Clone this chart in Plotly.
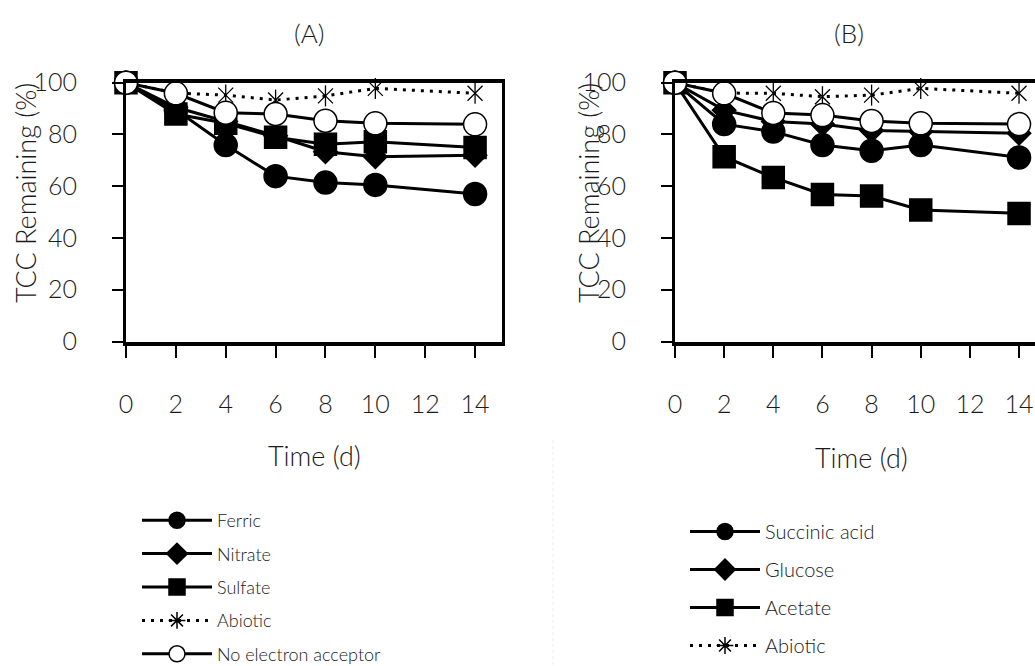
import plotly.graph_objects as go

W, H = 1035, 666

# ---------------- data ----------------
days = [0, 2, 4, 6, 8, 10, 14]

# Panel A (electron acceptors)
ferric = [100, 89.5, 75.9, 63.9, 61.4, 60.5, 57.0]
nitrate = [100, 90.5, 85.0, 79.5, 73.3, 71.4, 72.0]
sulfate = [100, 87.9, 84.3, 78.9, 76.2, 77.2, 75.0]
abiotic_a = [100, 96.0, 95.2, 93.3, 94.9, 97.8, 95.9]
no_acceptor_a = [100, 95.9, 88.4, 87.9, 85.3, 84.3, 83.9]

# Panel B (electron donors)
succinic = [100, 84.0, 81.1, 75.9, 73.7, 75.9, 71.1]
glucose = [100, 89.4, 85.0, 84.0, 81.5, 81.1, 80.5]
acetate = [100, 71.4, 63.4, 56.8, 56.2, 50.8, 49.5]
abiotic_b = [100, 96.0, 95.9, 94.6, 95.2, 97.8, 95.9]
no_acceptor_b = [100, 95.9, 88.3, 87.5, 85.2, 84.3, 84.0]

x_ticks = [0, 2, 4, 6, 8, 10, 12, 14]
y_ticks = [0, 20, 40, 60, 80, 100]

FONT = "Lato"
TXT = "#1a1a1a"
BLACK = "#000000"


def px(x):
    return x / W


def py(y):
    return 1 - y / H


SOLID = dict(color=BLACK, width=3)
DOTTED = dict(color=BLACK, width=3, dash="3px,6px")

fig = go.Figure()


def add_series(xa, ya, y, name, symbol, size, legend, fill=BLACK, show=True):
    fig.add_trace(go.Scatter(
        x=days, y=y, name=name, mode="lines+markers",
        xaxis=xa, yaxis=ya, line=SOLID,
        marker=dict(symbol=symbol, size=size, color=fill,
                    line=dict(color=BLACK, width=1.5)),
        cliponaxis=False, showlegend=show, legend=legend,
        legendgroup=legend + name,
    ))


def add_abiotic(xa, ya, y, legend):
    fig.add_trace(go.Scatter(
        x=days, y=y, name="Abiotic", mode="lines+markers", xaxis=xa, yaxis=ya,
        line=DOTTED,
        marker=dict(symbol="x-thin-open", size=15, color=BLACK,
                    line=dict(color=BLACK, width=1.3)),
        cliponaxis=False, showlegend=False,
    ))
    fig.add_trace(go.Scatter(
        x=days, y=y, mode="markers", xaxis=xa, yaxis=ya,
        marker=dict(symbol="line-ns-open", size=15, color=BLACK,
                    line=dict(color=BLACK, width=1.3)),
        cliponaxis=False, showlegend=False,
    ))
    # legend entry (asterisk symbol)
    fig.add_trace(go.Scatter(
        x=[None], y=[None], name="Abiotic", mode="lines+markers",
        xaxis=xa, yaxis=ya, line=DOTTED,
        marker=dict(symbol="asterisk-open", size=14, color=BLACK,
                    line=dict(color=BLACK, width=1.5)),
        showlegend=True, legend=legend, legendgroup=legend + "Abiotic",
    ))


# Panel A
add_series("x", "y", ferric, "Ferric", "circle", 23, "legend")
add_series("x", "y", nitrate, "Nitrate", "diamond", 18, "legend")
add_series("x", "y", sulfate, "Sulfate", "square", 22, "legend")
add_abiotic("x", "y", abiotic_a, "legend")
add_series("x", "y", no_acceptor_a, "No electron acceptor", "circle", 23,
           "legend", fill="#ffffff")

# Panel B
add_series("x2", "y2", succinic, "Succinic acid", "circle", 23, "legend2")
add_series("x2", "y2", glucose, "Glucose", "diamond", 18, "legend2")
add_series("x2", "y2", acetate, "Acetate", "square", 22, "legend2")
add_abiotic("x2", "y2", abiotic_b, "legend2")
add_series("x2", "y2", no_acceptor_b, "No electron acceptor", "circle", 23,
           "legend2", fill="#ffffff", show=False)

tickfont = dict(family=FONT, size=25, color=TXT, weight=300)

xcommon = dict(
    tickvals=x_ticks, ticktext=[str(v) for v in x_ticks],
    ticks="outside", ticklen=12, tickwidth=2, tickcolor=BLACK,
    showline=True, linecolor=BLACK, linewidth=4,
    showgrid=False, zeroline=False, tickfont=tickfont,
    ticklabelstandoff=25, automargin=False,
)
ycommon = dict(
    tickvals=y_ticks, ticktext=[str(v) for v in y_ticks], range=[0, 100],
    ticks="outside", ticklen=11, tickwidth=2, tickcolor=BLACK,
    showline=True, linecolor=BLACK, linewidth=3,
    showgrid=False, zeroline=False, tickfont=tickfont,
    ticklabelstandoff=30, automargin=False,
)

ydom = [py(341.5), py(82.7)]

fig.update_layout(
    width=W, height=H,
    margin=dict(l=0, r=0, t=0, b=0, autoexpand=False),
    paper_bgcolor="white", plot_bgcolor="white",
    font=dict(family=FONT, color=TXT),
    xaxis=dict(domain=[px(126), px(502)], range=[0, 15.08], mirror=True,
               anchor="y", **xcommon),
    yaxis=dict(domain=ydom, mirror=True, anchor="x", **ycommon),
    xaxis2=dict(domain=[px(675), 1.0], range=[0, 14.65], mirror=True,
                anchor="y2", **xcommon),
    yaxis2=dict(domain=ydom, mirror=False, anchor="x2", **ycommon),
    legend=dict(
        x=px(137), y=py(502), xanchor="left", yanchor="top",
        font=dict(family=FONT, size=18, color=TXT, weight=300),
        itemwidth=70, tracegroupgap=7, bgcolor="rgba(0,0,0,0)",
        traceorder="grouped",
    ),
    legend2=dict(
        x=px(685), y=py(512), xanchor="left", yanchor="top",
        font=dict(family=FONT, size=20, color=TXT, weight=300),
        itemwidth=70, tracegroupgap=9, bgcolor="rgba(0,0,0,0)",
        traceorder="grouped",
    ),
    showlegend=True,
)

annotations = [
    ("(A)", 309, 33, 0, 26),
    ("(B)", 849, 33, 0, 26),
    ("Time (d)", 314, 455, 0, 27),
    ("Time (d)", 861, 457, 0, 27),
    ("TCC Remaining (%)", 25, 193, -90, 27),
    ("TCC Remaining (%)", 588, 193, -90, 27),
]
for text, ax_, ay_, rot, fs in annotations:
    fig.add_annotation(text=text, x=px(ax_), y=py(ay_), xref="paper", yref="paper",
                       xanchor="center", yanchor="middle", showarrow=False,
                       textangle=rot,
                       font=dict(family=FONT, size=fs, color=TXT, weight=300))

# faint separator between the two panels
fig.add_shape(type="line", xref="paper", yref="paper",
              x0=px(553), x1=px(553), y0=py(440), y1=0,
              line=dict(color="#ececec", width=1, dash="dot"))

fig.write_html("out.html")
